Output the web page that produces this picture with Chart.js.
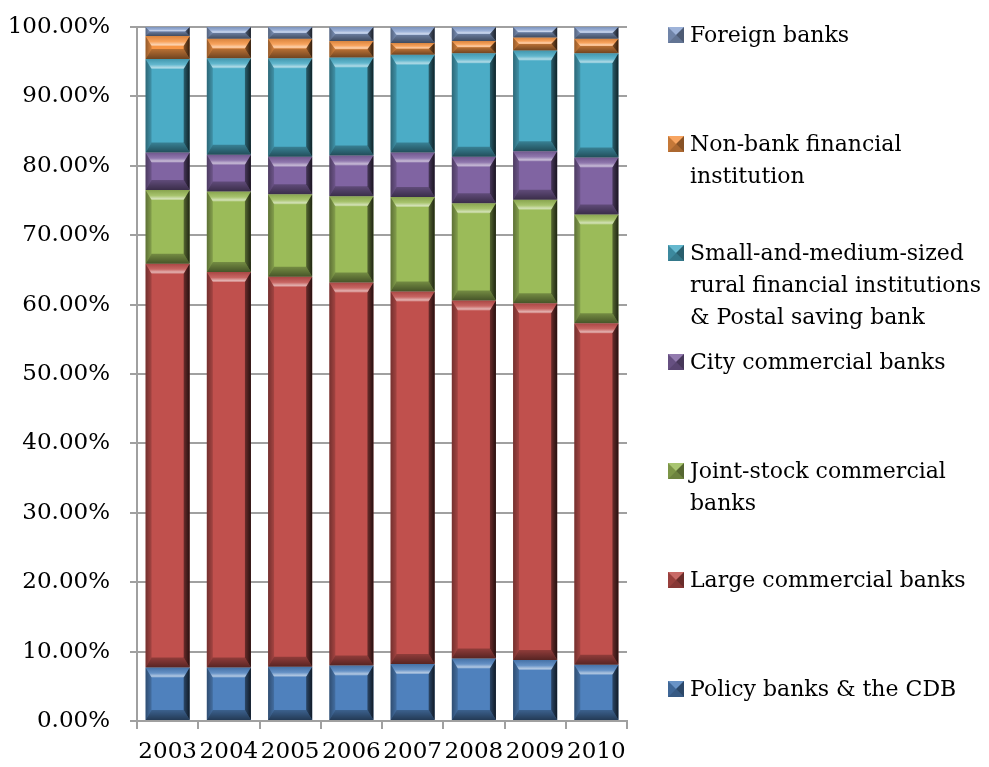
<!DOCTYPE html>
<html>
<head>
<meta charset="utf-8">
<script src="https://cdn.jsdelivr.net/npm/chart.js@4.4.0/dist/chart.umd.min.js"></script>
<style>
  html, body { margin: 0; padding: 0; background: #fff; }
  #wrap { width: 989px; height: 767px; }
</style>
</head>
<body>
<div id="wrap"><canvas id="c" width="989" height="767"></canvas></div>
<script>
// years on the category axis
const years = ['2003', '2004', '2005', '2006', '2007', '2008', '2009', '2010'];

// share of total assets, % (bottom of the stack first)
const policyBanks = [7.7, 7.7, 7.8, 8.0, 8.2, 9.0, 8.8, 8.1];
const largeBanks = [58.2, 57.0, 56.2, 55.2, 53.7, 51.6, 51.4, 49.2];
const jointStock = [10.6, 11.6, 11.9, 12.4, 13.6, 14.0, 14.9, 15.7];
const cityBanks = [5.4, 5.3, 5.4, 5.9, 6.4, 6.7, 7.0, 8.2];
const ruralPostal = [13.5, 13.9, 14.2, 14.1, 14.1, 14.9, 14.5, 15.0];
const nonBank = [3.3, 2.8, 2.8, 2.4, 1.7, 1.8, 1.9, 2.1];
const foreignBanks = [1.3, 1.7, 1.7, 2.0, 2.3, 2.0, 1.5, 1.7];

// y axis ticks
const yTicks = [0, 10, 20, 30, 40, 50, 60, 70, 80, 90, 100];

// legend text, already wrapped the way it is shown
const seriesLabels = [
  ['Policy banks & the CDB'],
  ['Large commercial banks'],
  ['Joint-stock commercial', 'banks'],
  ['City commercial banks'],
  ['Small-and-medium-sized', 'rural financial institutions', '& Postal saving bank'],
  ['Non-bank financial', 'institution'],
  ['Foreign banks']
];
const seriesData = [policyBanks, largeBanks, jointStock, cityBanks, ruralPostal, nonBank, foreignBanks];
const seriesColors = ['#4F81BD', '#C0504D', '#9BBB59', '#8064A2', '#4BACC6', '#F79646', '#8DA6D3'];

const FONT = 'DejaVu Serif';
const GRID = '#A0A0A0';

// simple bevel: light top edge, darker sides and bottom
function bevel(ctx, l, t, r, b) {
  const h = b - t, w = r - l;
  if (h <= 0 || w <= 0) return;
  const d = Math.min(10, h / 2, w / 2);
  const dx = Math.min(6, w / 2, h / 2);
  let g;

  // top
  g = ctx.createLinearGradient(0, t, 0, t + d);
  g.addColorStop(0, 'rgba(0,0,0,0.12)');
  g.addColorStop(0.55, 'rgba(255,255,255,0.12)');
  g.addColorStop(0.85, 'rgba(255,255,255,0.55)');
  g.addColorStop(1, 'rgba(255,255,255,0.25)');
  ctx.fillStyle = g;
  ctx.beginPath();
  ctx.moveTo(l, t); ctx.lineTo(r, t); ctx.lineTo(r - dx, t + d); ctx.lineTo(l + dx, t + d);
  ctx.closePath(); ctx.fill();

  // bottom
  g = ctx.createLinearGradient(0, b, 0, b - d);
  g.addColorStop(0, 'rgba(0,0,0,0.55)');
  g.addColorStop(1, 'rgba(0,0,0,0.25)');
  ctx.fillStyle = g;
  ctx.beginPath();
  ctx.moveTo(l, b); ctx.lineTo(r, b); ctx.lineTo(r - dx, b - d); ctx.lineTo(l + dx, b - d);
  ctx.closePath(); ctx.fill();

  // left
  g = ctx.createLinearGradient(l, 0, l + dx, 0);
  g.addColorStop(0, 'rgba(0,0,0,0.4)');
  g.addColorStop(1, 'rgba(0,0,0,0.15)');
  ctx.fillStyle = g;
  ctx.beginPath();
  ctx.moveTo(l, t); ctx.lineTo(l + dx, t + d); ctx.lineTo(l + dx, b - d); ctx.lineTo(l, b);
  ctx.closePath(); ctx.fill();

  // right
  g = ctx.createLinearGradient(r, 0, r - dx, 0);
  g.addColorStop(0, 'rgba(0,0,0,0.8)');
  g.addColorStop(1, 'rgba(0,0,0,0.45)');
  ctx.fillStyle = g;
  ctx.beginPath();
  ctx.moveTo(r, t); ctx.lineTo(r, b); ctx.lineTo(r - dx, b - d); ctx.lineTo(r - dx, t + d);
  ctx.closePath(); ctx.fill();
}

const bevelPlugin = {
  id: 'bevel',
  afterDatasetsDraw(chart) {
    const ctx = chart.ctx;
    ctx.save();
    chart.data.datasets.forEach((ds, i) => {
      chart.getDatasetMeta(i).data.forEach(bar => {
        const l = bar.x - bar.width / 2, r = bar.x + bar.width / 2;
        const t = Math.min(bar.y, bar.base), b = Math.max(bar.y, bar.base);
        bevel(ctx, l, t, r, b);
      });
    });
    ctx.restore();
  }
};

// legend on the right, top entry = last dataset
const sideLegend = {
  id: 'sideLegend',
  afterDraw(chart) {
    const ctx = chart.ctx;
    const n = chart.data.datasets.length;
    const x0 = 668, size = 16, tx = 690, y0 = 35, step = 109, lh = 32;
    ctx.save();
    ctx.font = '22px "' + FONT + '"';
    ctx.textBaseline = 'middle';
    ctx.fillStyle = '#000';
    for (let k = 0; k < n; k++) {
      const i = n - 1 - k;
      const ds = chart.data.datasets[i];
      const cy = y0 + k * step;
      const l = x0, t = cy - size / 2, r = x0 + size, b = cy + size / 2, cx = x0 + size / 2;
      ctx.fillStyle = ds.backgroundColor;
      ctx.fillRect(l, t, size, size);
      // pyramid shading on the swatch
      const tri = (pts, c) => {
        ctx.fillStyle = c;
        ctx.beginPath();
        ctx.moveTo(pts[0], pts[1]); ctx.lineTo(pts[2], pts[3]); ctx.lineTo(pts[4], pts[5]);
        ctx.closePath(); ctx.fill();
      };
      tri([l, t, r, t, cx, cy], 'rgba(255,255,255,0.15)');
      tri([l, t, l, b, cx, cy], 'rgba(0,0,0,0.2)');
      tri([r, t, r, b, cx, cy], 'rgba(0,0,0,0.45)');
      tri([l, b, r, b, cx, cy], 'rgba(0,0,0,0.3)');
      ctx.fillStyle = '#000';
      seriesLabels[i].forEach((line, j) => ctx.fillText(line, tx, cy + j * lh + 1));
    }
    ctx.restore();
  }
};

Chart.defaults.font.family = FONT;
Chart.defaults.font.size = 23;
Chart.defaults.color = '#000';

new Chart(document.getElementById('c'), {
  type: 'bar',
  data: {
    labels: years,
    datasets: seriesData.map((vals, i) => ({
      label: seriesLabels[i].join(' '),
      data: vals,
      backgroundColor: seriesColors[i],
      borderWidth: 0,
      categoryPercentage: 1.0,
      barPercentage: 0.72
    }))
  },
  options: {
    responsive: false,
    animation: false,
    layout: { padding: { left: 10, right: 362, top: 27, bottom: 0 } },
    plugins: { legend: { display: false }, tooltip: { enabled: false } },
    scales: {
      x: {
        stacked: true,
        afterFit(axis) { axis.height = 46; },
        grid: { drawOnChartArea: false, drawTicks: true, tickLength: 8, color: GRID, lineWidth: 2, offset: true },
        border: { color: GRID, width: 2 },
        ticks: { padding: 9, maxRotation: 0, autoSkip: false }
      },
      y: {
        stacked: true,
        min: 0,
        max: 100,
        afterBuildTicks(axis) { axis.ticks = yTicks.map(v => ({ value: v })); },
        afterFit(axis) {
          axis.width = 127;
          axis.paddingTop = 0;
          axis.paddingBottom = 0;
        },
        grid: { color: GRID, lineWidth: 2, tickLength: 7 },
        border: { color: GRID, width: 2 },
        ticks: { padding: 20, callback: v => v.toFixed(2) + '%' }
      }
    }
  },
  plugins: [bevelPlugin, sideLegend]
});
</script>
</body>
</html>
